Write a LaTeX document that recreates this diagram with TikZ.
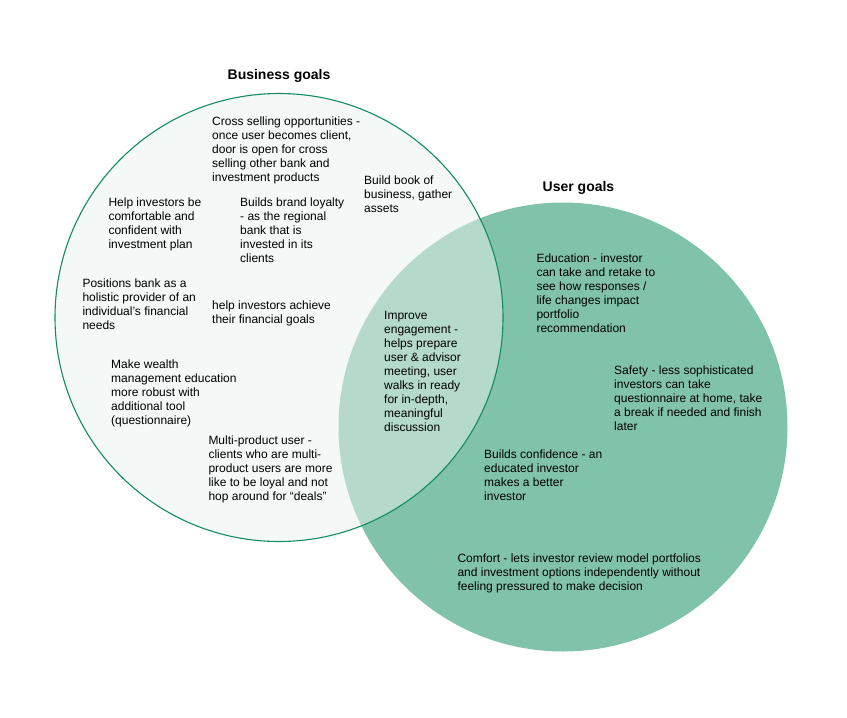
\documentclass[tikz,border=0pt]{standalone}
\usepackage{fontspec}
\setmainfont{Liberation Sans}
\definecolor{usergreen}{RGB}{129,195,170}
\definecolor{bizfill}{RGB}{233,241,239}
\definecolor{bizline}{RGB}{20,140,95}
\tikzset{
  goal/.style={anchor=north west,yshift=8.8pt,inner sep=0pt,align=left,font=\fontsize{12}{14}\selectfont},
  goaltitle/.style={anchor=base,inner sep=0pt,font=\fontsize{14}{16}\selectfont\bfseries}
}
\begin{document}
\begin{tikzpicture}[x=1pt,y=-1pt]
\useasboundingbox (0,0) rectangle (847,718);
% the two sets
\fill [usergreen] (563,427) circle (224.5);
\draw [bizline,fill=bizfill,fill opacity=.5,line width=1.1pt] (279,317.5) circle (224);
% titles
\node [goaltitle] (biztitle) at (279,79) {Business goals};
\node [goaltitle] (usertitle) at (578.5,191) {User goals};
% business side
\node [goal] (crosssell) at (212,125) {Cross selling opportunities -\\once user becomes client,\\door is open for cross\\selling other bank and\\investment products};
\node [goal] (bookbiz) at (364,184) {Build book of\\business, gather\\assets};
\node [goal] (comfortplan) at (108.3,206) {Help investors be\\comfortable and\\confident with\\investment plan};
\node [goal] (loyalty) at (240,206) {Builds brand loyalty\\- as the regional\\bank that is\\invested in its\\clients};
\node [goal] (holistic) at (82.3,287) {Positions bank as a\\holistic provider of an\\individual’s financial\\needs};
\node [goal] (achieve) at (212,309) {help investors achieve\\their financial goals};
\node [goal] (wealthedu) at (111,368) {Make wealth\\management education\\more robust with\\additional tool\\(questionnaire)};
\node [goal] (multiprod) at (208.3,444) {Multi-product user -\\clients who are multi-\\product users are more\\like to be loyal and not\\hop around for “deals”};
% shared
\node [goal] (engage) at (384,320) {Improve\\engagement -\\helps prepare\\user \& advisor\\meeting, user\\walks in ready\\for in-depth,\\meaningful\\discussion};
% user side
\node [goal] (education) at (536.3,262) {Education - investor\\can take and retake to\\see how responses /\\life changes impact\\portfolio\\recommendation};
\node [goal] (safety) at (614,374) {Safety - less sophisticated\\investors can take\\questionnaire at home, take\\a break if needed and finish\\later};
\node [goal] (confidence) at (484,458) {Builds confidence - an\\educated investor\\makes a better\\investor};
\node [goal] (comfort) at (457.3,562) {Comfort - lets investor review model portfolios\\and investment options independently without\\feeling pressured to make decision};
\end{tikzpicture}
\end{document}
